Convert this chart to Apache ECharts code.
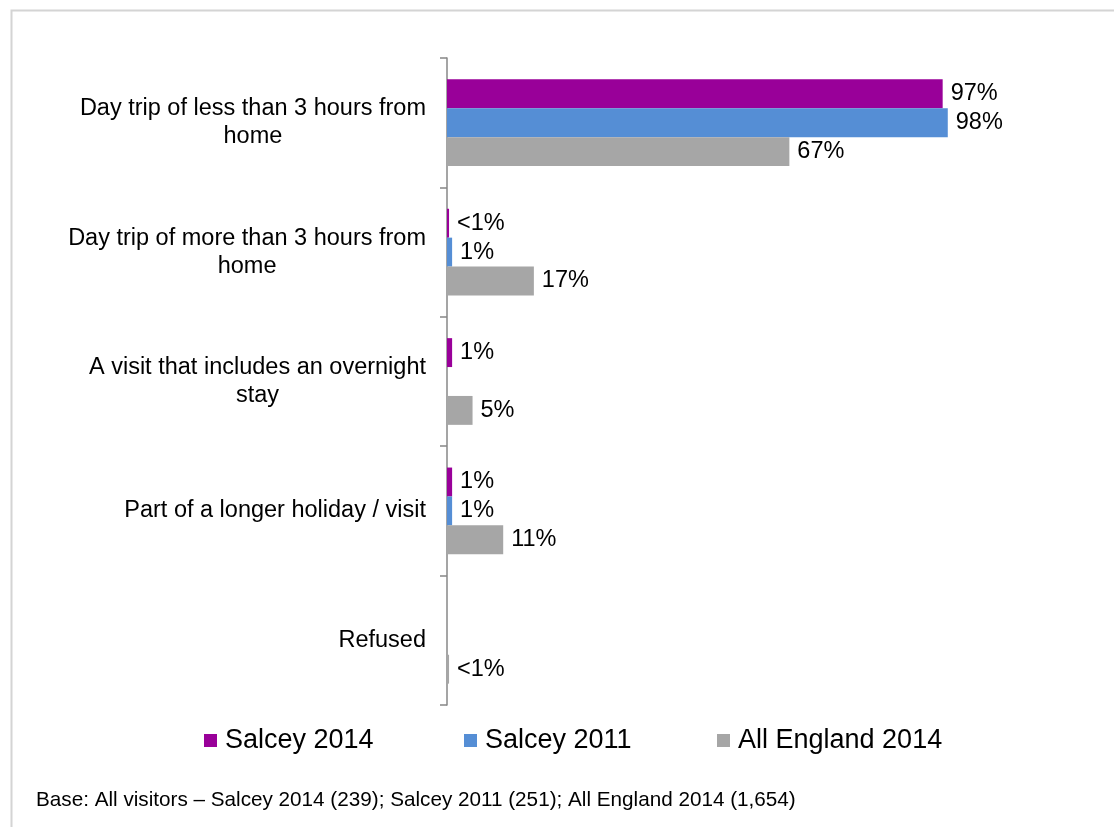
<!DOCTYPE html>
<html>
<head>
<meta charset="utf-8">
<title>Type of visit</title>
<script src="https://cdn.jsdelivr.net/npm/echarts@6/dist/echarts.min.js"></script>
<style>
  html, body { margin: 0; padding: 0; background: #fff; }
  #chart { width: 1114px; height: 827px; }
</style>
</head>
<body>
<div id="chart"></div>
<script>
// Visit types (top to bottom)
const categories = [
  'Day trip of less than 3 hours from\nhome',
  'Day trip of more than 3 hours from\nhome',
  'A visit that includes an overnight\nstay',
  'Part of a longer holiday / visit',
  'Refused'
];

// Percentages of visitors; values below 1 are shown as "<1%", null = no response
const salcey2014 = [97, 0.4, 1, 1, null];
const salcey2011 = [98, 1, null, 1, null];
const allEngland2014 = [67, 17, 5, 11, 0.4];

const seriesNames = ['Salcey 2014', 'Salcey 2011', 'All England 2014'];
const seriesColors = ['#990099', '#558ED5', '#A6A6A6'];
const footnote = 'Base: All visitors \u2013 Salcey 2014 (239); Salcey 2011 (251); All England 2014 (1,654)';

const FONT = '"Liberation Sans", Arial, sans-serif';

function pctLabel(p) {
  const v = p.value;
  if (v == null) return '';
  return v < 1 ? '<1%' : Math.round(v) + '%';
}

function makeSeries(name, data, color) {
  return {
    name: name,
    type: 'bar',
    data: data,
    barGap: '0%',
    barCategoryGap: '33%',
    itemStyle: { color: color },
    label: {
      show: true,
      position: 'right',
      distance: 8,
      formatter: pctLabel,
      color: '#000',
      fontFamily: FONT,
      fontSize: 23.5
    }
  };
}

// one legend block per series so each sits in its own slot
const legendLefts = [199, 459, 712];
const legends = seriesNames.map(function (name, i) {
  return {
    data: [name],
    left: legendLefts[i],
    top: 722,
    itemWidth: 13,
    itemHeight: 13,
    icon: 'rect',
    selectedMode: false,
    itemStyle: { borderWidth: 0 },
    textStyle: { fontSize: 27, color: '#000', fontFamily: FONT, padding: [0, 0, 0, 3] }
  };
});

const chart = echarts.init(document.getElementById('chart'), null, { renderer: 'canvas' });

chart.setOption({
  animation: false,
  backgroundColor: '#fff',
  textStyle: { fontFamily: FONT },
  grid: { left: 447, right: 156, top: 58, bottom: 122, containLabel: false },
  xAxis: {
    type: 'value',
    min: 0,
    max: 100,
    show: false
  },
  yAxis: {
    type: 'category',
    data: categories,
    inverse: true,
    axisLine: { show: true, lineStyle: { color: '#878787', width: 1.5 } },
    axisTick: { show: true, length: 7, lineStyle: { color: '#878787', width: 1.5 } },
    axisLabel: {
      margin: 21,
      formatter: function (v) {
        return v.split('\n').map(function (l) { return '{c|' + l + '}'; }).join('\n');
      },
      rich: {
        c: { align: 'center', fontSize: 23.5, lineHeight: 28, color: '#000', fontFamily: FONT }
      }
    }
  },
  legend: legends,
  graphic: [
    {
      type: 'rect',
      left: 9, top: 8,
      shape: { x: 0, y: 0, width: 1200, height: 900 },
      style: { fill: 'none', stroke: '#d4d4d4', lineWidth: 2 },
      silent: true
    },
    {
      type: 'text',
      left: 36, top: 790,
      style: { text: footnote, fill: '#000', font: '20.7px ' + FONT }
    }
  ],
  series: [
    makeSeries(seriesNames[0], salcey2014, seriesColors[0]),
    makeSeries(seriesNames[1], salcey2011, seriesColors[1]),
    makeSeries(seriesNames[2], allEngland2014, seriesColors[2])
  ]
});
</script>
</body>
</html>
